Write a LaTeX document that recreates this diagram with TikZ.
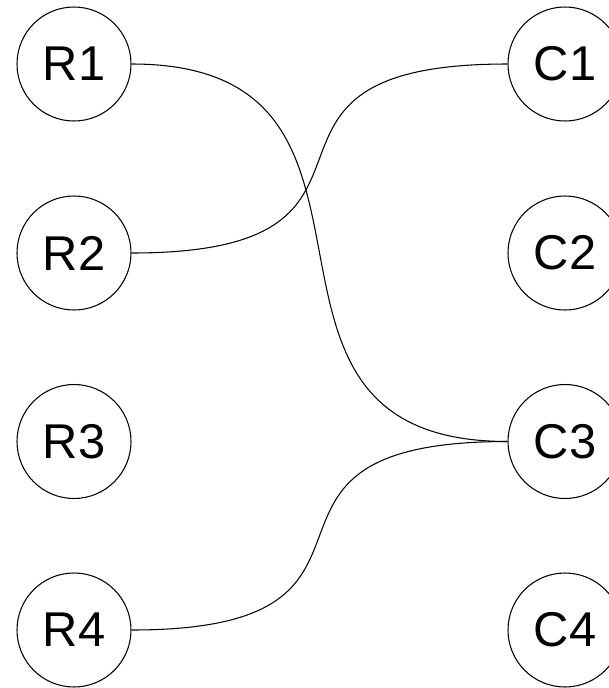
\documentclass[tikz,border=0pt]{standalone}
\usepackage{fontspec}
\setmainfont{Liberation Sans}
\usetikzlibrary{calc}

\begin{document}
\begin{tikzpicture}[vert/.style={draw, circle, line width=0.6pt, minimum size=2.28cm, inner sep=0pt, font=\fontsize{27.8}{30}\selectfont}]
    \useasboundingbox (0,0) rectangle (12.18,-13.76);
    \foreach \i/\y in {1/-1.28,2/-5.06,3/-8.83,4/-12.6} {
      \node[vert] (r\i) at (1.48,\y) {R\i};
      \node[vert] (c\i) at (11.3,\y) {C\i};
    }
    % links, horizontal tangents at both ends
    \foreach \a/\b in {r1/c3,r2/c1,r4/c3} {
      \draw[line width=0.6pt] (\a.east) .. controls ($(\a.east)+(6.1,0)$) and ($(\b.west)-(6.1,0)$) .. (\b.west);
    }
  \end{tikzpicture}
\end{document}
